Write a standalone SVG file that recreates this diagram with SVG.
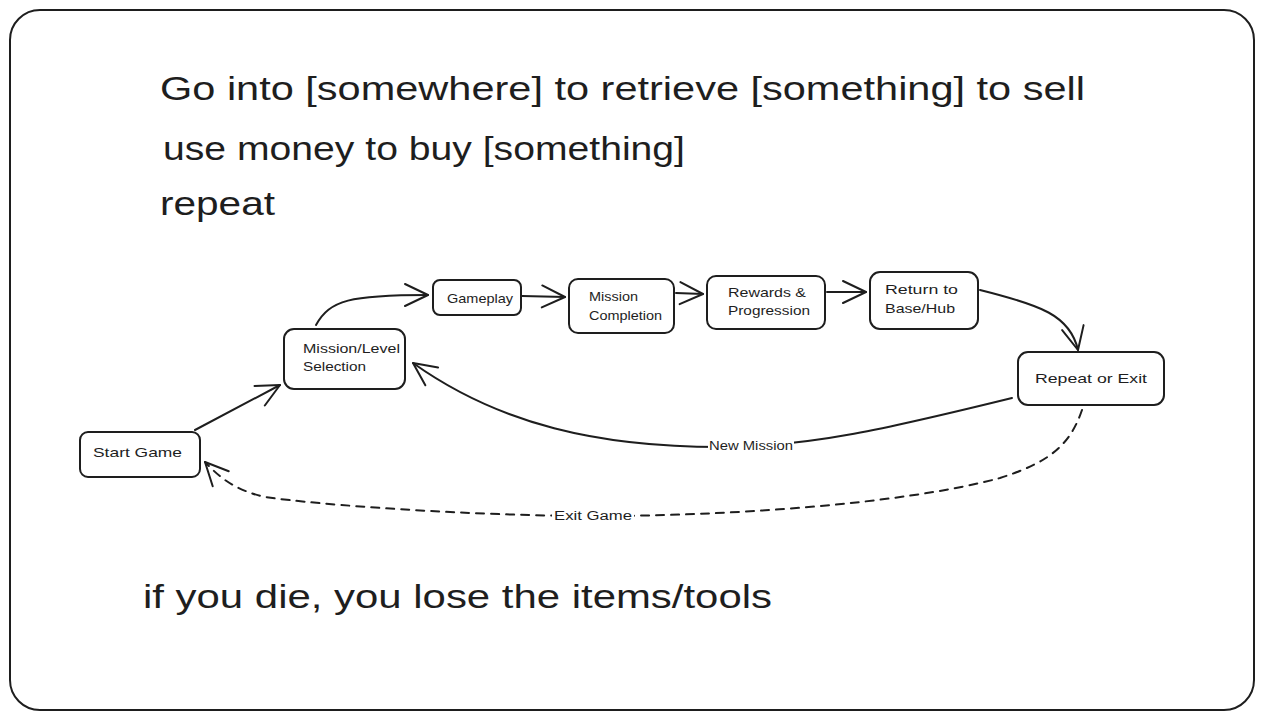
<svg xmlns="http://www.w3.org/2000/svg" width="1264" height="720" viewBox="0 0 1264 720">
<style>
.frame{fill:#fff;stroke:#1e1e1e;stroke-width:2}
.node rect{fill:#fff;stroke:#1e1e1e;stroke-width:2}
.big{font-family:"Liberation Sans",Arial,sans-serif;font-size:34px;fill:#1e1e1e}
.t{font-family:"Liberation Sans",Arial,sans-serif;font-size:13px;fill:#1e1e1e}
.c{fill:none;stroke:#1e1e1e;stroke-width:2;stroke-linecap:round}
.dash{stroke-dasharray:8 7}
.lbl{font-family:"Liberation Sans",Arial,sans-serif;font-size:12px;fill:#1e1e1e}
</style>
<defs>
<marker id="arr" viewBox="0 0 12 12" refX="11" refY="6" markerWidth="12" markerHeight="12" markerUnits="userSpaceOnUse" orient="auto" overflow="visible">
<path d="M-12,-5 L11,6 L-12,17" fill="none" stroke="#1e1e1e" stroke-width="2" stroke-linecap="round" stroke-linejoin="round"/>
</marker>
</defs>
<rect class="frame" x="10" y="10" width="1244" height="700" rx="30"/>
<g id="texts">
<text class="big" x="160" y="100" textLength="925" lengthAdjust="spacingAndGlyphs">Go into [somewhere] to retrieve [something] to sell</text>
<text class="big" x="163" y="160" textLength="522" lengthAdjust="spacingAndGlyphs">use money to buy [something]</text>
<text class="big" x="160" y="215" textLength="115" lengthAdjust="spacingAndGlyphs">repeat</text>
<text class="big" x="143" y="608" textLength="629" lengthAdjust="spacingAndGlyphs">if you die, you lose the items/tools</text>
</g>
<g id="connectors">
<path class="c" d="M195,430 L280,385" marker-end="url(#arr)"/>
<path class="c" d="M316,325 C330,300 350,295 428,295" marker-end="url(#arr)" stroke-width="2.5"/>
<path class="c" d="M522,296 L565,297" marker-end="url(#arr)"/>
<path class="c" d="M676,293 L703,294" marker-end="url(#arr)"/>
<path class="c" d="M827,292 L866,292" marker-end="url(#arr)"/>
<path class="c" d="M980,290 C1040,305 1070,315 1078,350" marker-end="url(#arr)" stroke-width="2.5"/>
<path class="c" d="M1012,398 C890,428 810,447 720,447 C600,447 500,425 413,363" marker-end="url(#arr)" stroke-width="2.5"/>
<rect x="708" y="438" width="86" height="16" fill="#fff"/>
<text class="lbl" x="709" y="450" textLength="84" lengthAdjust="spacingAndGlyphs">New Mission</text>
<path class="c dash" d="M1082,410 C1070,445 1050,462 1000,478 C900,505 720,516 600,516 C470,516 320,505 265,497 C235,490 220,478 205,462" marker-end="url(#arr)" stroke-width="2.2"/>
<rect x="552" y="508" width="82" height="16" fill="#fff"/>
<text class="lbl" x="554" y="520" textLength="78" lengthAdjust="spacingAndGlyphs">Exit Game</text>
</g>
<g id="start" class="node">
<rect x="80" y="432" width="120" height="45" rx="8"/>
<text class="t" x="93" y="457" textLength="89" lengthAdjust="spacingAndGlyphs">Start Game</text>
</g>
<g id="selection" class="node">
<rect x="284" y="329" width="121" height="60" rx="10"/>
<text class="t" x="303" y="353" textLength="97" lengthAdjust="spacingAndGlyphs">Mission/Level</text>
<text class="t" x="303" y="371" textLength="63" lengthAdjust="spacingAndGlyphs">Selection</text>
</g>
<g id="gameplay" class="node">
<rect x="433" y="280" width="88" height="35" rx="7"/>
<text class="t" x="447" y="303" textLength="66" lengthAdjust="spacingAndGlyphs">Gameplay</text>
</g>
<g id="completion" class="node">
<rect x="569" y="279" width="105" height="54" rx="9"/>
<text class="t" x="589" y="301" textLength="49" lengthAdjust="spacingAndGlyphs">Mission</text>
<text class="t" x="589" y="320" textLength="73" lengthAdjust="spacingAndGlyphs">Completion</text>
</g>
<g id="rewards" class="node">
<rect x="707" y="276" width="118" height="53" rx="9"/>
<text class="t" x="728" y="297" textLength="78" lengthAdjust="spacingAndGlyphs">Rewards &amp;</text>
<text class="t" x="728" y="315" textLength="82" lengthAdjust="spacingAndGlyphs">Progression</text>
</g>
<g id="return" class="node">
<rect x="870" y="272" width="108" height="57" rx="10"/>
<text class="t" x="885" y="294" textLength="73" lengthAdjust="spacingAndGlyphs">Return to</text>
<text class="t" x="885" y="313" textLength="70" lengthAdjust="spacingAndGlyphs">Base/Hub</text>
</g>
<g id="repeat" class="node">
<rect x="1018" y="352" width="146" height="53" rx="10"/>
<text class="t" x="1035" y="383" textLength="112" lengthAdjust="spacingAndGlyphs">Repeat or Exit</text>
</g>
</svg>
